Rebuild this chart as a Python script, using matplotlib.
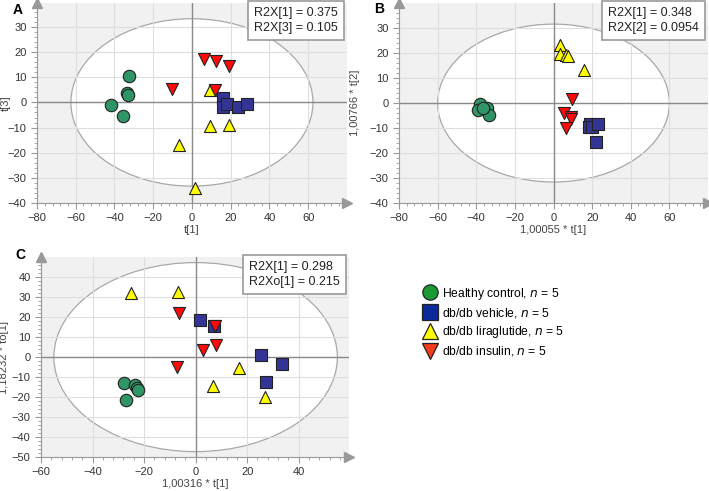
import numpy as np
import matplotlib.pyplot as plt
from matplotlib.patches import Ellipse
from matplotlib.lines import Line2D
from matplotlib.ticker import MultipleLocator

plt.rcParams['font.family'] = ['Liberation Sans', 'DejaVu Sans']

# Panel A scores: t[1] vs t[3]
a_control_x = [-32.7, -33.5, -33.0, -41.7, -35.7]
a_control_y = [10.7, 3.6, 3.0, -1.2, -5.2]
a_vehicle_x = [15.9, 15.9, 17.9, 24.0, 28.2]
a_vehicle_y = [1.7, -1.9, -0.5, -1.9, -0.8]
a_lira_x = [9.3, 9.3, 19.3, -6.5, 1.6]
a_lira_y = [4.8, -9.5, -9.1, -17.1, -34.1]
a_insulin_x = [6.3, 12.4, 19.3, -10.4, 11.9]
a_insulin_y = [17.4, 16.4, 14.3, 5.4, 5.0]

# Panel B scores: t[1] vs t[2]
b_control_x = [-38.2, -39.0, -34.7, -33.3, -36.5]
b_control_y = [-0.3, -2.9, -1.9, -4.7, -2.0]
b_vehicle_x = [18.9, 18.6, 20.0, 23.2, 21.8]
b_vehicle_y = [-8.3, -9.6, -9.5, -8.3, -15.6]
b_lira_x = [3.6, 3.6, 6.4, 7.5, 15.9]
b_lira_y = [23.1, 19.7, 19.3, 18.8, 13.1]
b_insulin_x = [9.4, 5.5, 8.8, 9.0, 6.4]
b_insulin_y = [1.5, -3.9, -5.6, -6.2, -9.9]

# Panel C scores: t[1] vs to[1]
c_control_x = [-27.6, -23.4, -22.8, -22.3, -27.0]
c_control_y = [-13.1, -13.9, -15.3, -16.6, -21.4]
c_vehicle_x = [1.8, 7.2, 25.3, 33.7, 27.2]
c_vehicle_y = [18.8, 15.4, 1.0, -3.5, -12.3]
c_lira_x = [-25.2, -7.0, 16.8, 6.6, 27.1]
c_lira_y = [32.2, 32.5, -5.3, -14.3, -20.1]
c_insulin_x = [-6.3, 7.5, 2.8, 7.9, -7.1]
c_insulin_y = [22.3, 15.4, 3.5, 6.0, -5.1]

groups = ['Healthy control', 'db/db vehicle', 'db/db liraglutide', 'db/db insulin']
markers = ['o', 's', '^', 'v']
colors = ['#2f9466', '#343497', '#ffff00', '#ff0a0a']
legend_colors = ['#1a9a30', '#0c2a9c', '#ffff00', '#f23c1c']
sizes = [80, 70, 75, 75]

fig = plt.figure(figsize=(7.09, 4.91), dpi=100)


def minus(v, p):
    return f'{v:.0f}'.replace('-', '\u2212')


def panel(rect, data, xlim, ylim, ell, label, label_xy, note, xlab, ylab, ylab_x):
    ax = fig.add_axes(rect)
    ax.set_facecolor('#f1f1f1')
    ax.set_xlim(*xlim)
    ax.set_ylim(*ylim)
    ax.add_patch(Ellipse((0, 0), 2 * ell[0], 2 * ell[1], facecolor='white',
                         edgecolor='#a8a8a8', lw=0.9, zorder=0.2))
    ax.set_axisbelow(True)
    ax.grid(True, color='#dedede', lw=0.8)
    ax.axhline(0, color='#8a8a8a', lw=1, zorder=1)
    ax.axvline(0, color='#8a8a8a', lw=1, zorder=1)
    for (xs, ys), m, c, s in zip(data, markers, colors, sizes):
        ax.scatter(xs, ys, marker=m, s=s, c=c, edgecolors='#222222',
                   linewidths=0.8, zorder=3)
    for sp in ['top', 'right']:
        ax.spines[sp].set_visible(False)
    for sp in ['left', 'bottom']:
        ax.spines[sp].set_color('#999999')
    ax.xaxis.set_major_locator(MultipleLocator(20))
    ax.xaxis.set_minor_locator(MultipleLocator(4))
    ax.yaxis.set_major_locator(MultipleLocator(10))
    ax.yaxis.set_minor_locator(MultipleLocator(2))
    ax.tick_params(which='both', colors='#999999', labelcolor='#333333',
                   labelsize=8)
    ax.tick_params(which='major', length=4)
    ax.tick_params(which='minor', length=2)
    ticks = ax.get_xticks()
    ax.set_xticks([t for t in ticks if xlim[0] <= t <= xlim[1] - 10])
    yt = ax.get_yticks()
    ax.set_yticks([t for t in yt if ylim[0] <= t <= ylim[1] - 5])
    ax.xaxis.set_major_formatter(plt.FuncFormatter(minus))
    ax.yaxis.set_major_formatter(plt.FuncFormatter(minus))
    ax.set_xlabel(xlab, fontsize=8, color='#444444', labelpad=1)
    ax.set_ylabel(ylab, fontsize=8, color='#444444')
    ax.yaxis.set_label_coords(ylab_x, 0.5)
    # arrowheads on the axes ends
    ax.plot([1.0], [0], marker='>', ms=7, color='#999999', transform=ax.transAxes,
            clip_on=False, zorder=5)
    ax.plot([0], [1.0], marker='^', ms=7, color='#999999', transform=ax.transAxes,
            clip_on=False, zorder=5)
    ax.text(0.97, 0.98, note, transform=ax.transAxes, ha='right', va='top',
            multialignment='left', fontsize=9, color='#222222', linespacing=1.3,
            zorder=6, bbox=dict(boxstyle='square,pad=0.5', facecolor='white',
                                edgecolor='#999999', lw=1.2))
    ax.text(label_xy[0], label_xy[1], label, transform=ax.transAxes, fontsize=10,
            fontweight='bold', ha='center', va='center')
    return ax


panel([0.0522, 0.5866, 0.437, 0.407],
      [(a_control_x, a_control_y), (a_vehicle_x, a_vehicle_y),
       (a_lira_x, a_lira_y), (a_insulin_x, a_insulin_y)],
      (-80, 80), (-40, 39.5), (62.5, 33.3), 'A', (-0.061, 0.965),
      'R2X[1] = 0.375\nR2X[3] = 0.105', 't[1]', 't[3]', -0.085)

panel([0.5628, 0.5866, 0.4358, 0.407],
      [(b_control_x, b_control_y), (b_vehicle_x, b_vehicle_y),
       (b_lira_x, b_lira_y), (b_insulin_x, b_insulin_y)],
      (-80, 80), (-40, 40), (60, 31.6), 'B', (-0.065, 0.97),
      'R2X[1] = 0.348\nR2X[2] = 0.0954', '1,00055 * t[1]', '1,00766 * t[2]', -0.125)

panel([0.0578, 0.0692, 0.4344, 0.407],
      [(c_control_x, c_control_y), (c_vehicle_x, c_vehicle_y),
       (c_lira_x, c_lira_y), (c_insulin_x, c_insulin_y)],
      (-60, 59.5), (-50, 50), (55, 47.3), 'C', (-0.068, 1.01),
      'R2X[1] = 0.298\nR2Xo[1] = 0.215', '1,00316 * t[1]', '1,18232 * to[1]', -0.105)

handles = [Line2D([], [], marker=m, ls='none', ms=11, markerfacecolor=c,
                  markeredgecolor='#222222', markeredgewidth=0.9)
           for m, c in zip(markers, legend_colors)]
labels = [f'{g}, $\\it{{n}}$ = 5' for g in groups]
fig.legend(handles, labels, loc='upper left', bbox_to_anchor=(0.59, 0.428),
           frameon=False, fontsize=8.7, handletextpad=0.4, labelspacing=0.35,
           handlelength=1.2, borderaxespad=0)

fig.savefig('out.png', dpi=100)
